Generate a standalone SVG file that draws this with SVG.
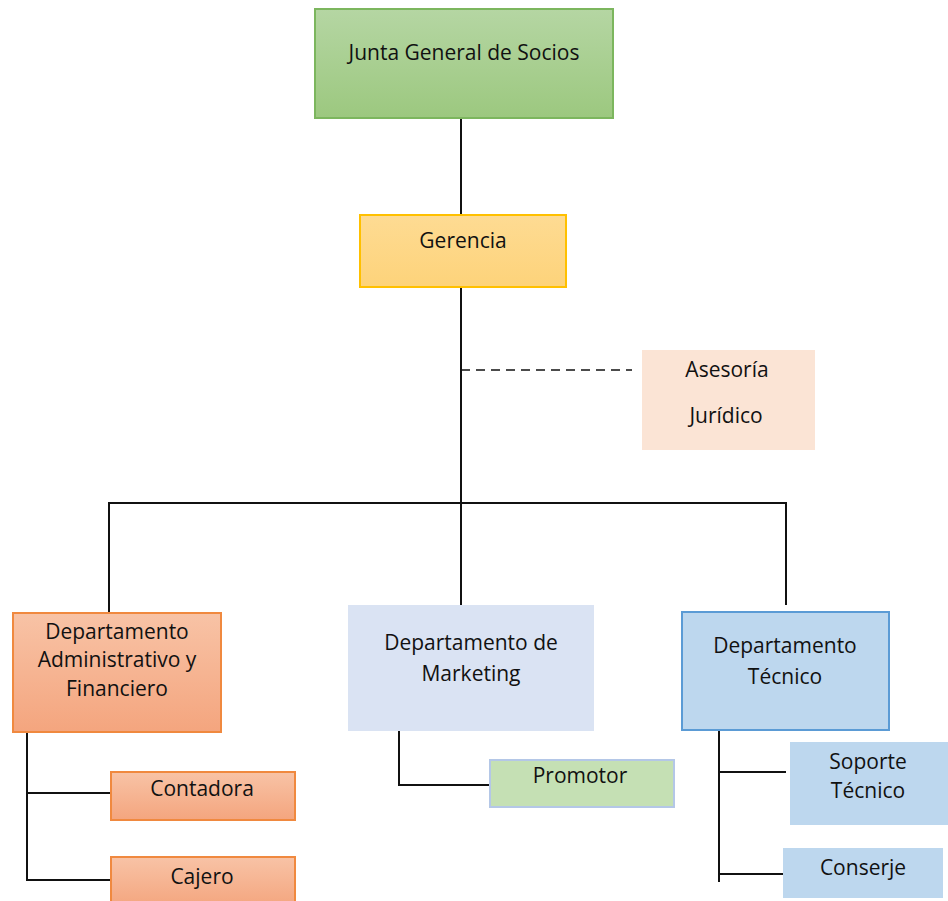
<svg xmlns="http://www.w3.org/2000/svg" width="948" height="901" viewBox="0 0 948 901">
<defs>
<linearGradient id="gGreen" x1="0" y1="0" x2="0" y2="1"><stop offset="0" stop-color="#b5d6a3"/><stop offset="1" stop-color="#9cc87f"/></linearGradient>
<linearGradient id="gGold" x1="0" y1="0" x2="0" y2="1"><stop offset="0" stop-color="#fedb93"/><stop offset="1" stop-color="#fdd37a"/></linearGradient>
<linearGradient id="gOrange" x1="0" y1="0" x2="0" y2="1"><stop offset="0" stop-color="#f8c3a6"/><stop offset="1" stop-color="#f4a57e"/></linearGradient>
</defs>
<style>
text{font-family:"Open Sans","Liberation Sans",sans-serif;font-size:21px;fill:#111;text-anchor:middle}
.ln{stroke:#111;stroke-width:2;fill:none}
.dash{stroke:#111;stroke-width:1.5;stroke-dasharray:9,6;fill:none}
</style>
<g id="connectors">
<line class="ln" x1="461" y1="118" x2="461" y2="215"/>
<line class="ln" x1="461" y1="287" x2="461" y2="605"/>
<line class="dash" x1="461" y1="370" x2="632" y2="370"/>
<polyline class="ln" points="109,613 109,503 786,503 786,605"/>
<polyline class="ln" points="27,732 27,880 110,880"/>
<line class="ln" x1="27" y1="793" x2="110" y2="793"/>
<polyline class="ln" points="399,731 399,785 490,785"/>
<line class="ln" x1="719" y1="730" x2="719" y2="882"/>
<line class="ln" x1="719" y1="772" x2="786" y2="772"/>
<line class="ln" x1="719" y1="874" x2="783" y2="874"/>
</g>
<g id="junta">
<rect x="315" y="9" width="298" height="109" fill="url(#gGreen)" stroke="#7cb65e" stroke-width="2"/>
<text x="464" y="60">Junta General de Socios</text>
</g>
<g id="gerencia">
<rect x="360" y="215" width="206" height="72" fill="url(#gGold)" stroke="#ffc000" stroke-width="2"/>
<text x="463" y="248">Gerencia</text>
</g>
<g id="asesoria">
<rect x="642" y="350" width="173" height="100" fill="#fbe4d5"/>
<text x="727" y="377">Asesoría</text>
<text x="726" y="423">Jurídico</text>
</g>
<g id="dept-admin">
<rect x="13" y="613" width="208" height="119" fill="url(#gOrange)" stroke="#f0893f" stroke-width="2"/>
<text x="117" y="639">Departamento</text>
<text x="117" y="667">Administrativo y</text>
<text x="117" y="696">Financiero</text>
</g>
<g id="dept-marketing">
<rect x="348" y="605" width="246" height="126" fill="#dae3f3"/>
<text x="471" y="650">Departamento de</text>
<text x="471" y="681">Marketing</text>
</g>
<g id="dept-tecnico">
<rect x="682" y="612" width="207" height="118" fill="#bdd7ee" stroke="#5b9bd5" stroke-width="2"/>
<text x="785" y="653">Departamento</text>
<text x="785" y="684">Técnico</text>
</g>
<g id="contadora">
<rect x="111" y="772" width="184" height="48" fill="url(#gOrange)" stroke="#f0893f" stroke-width="2"/>
<text x="202" y="796">Contadora</text>
</g>
<g id="cajero">
<rect x="111" y="857" width="184" height="50" fill="url(#gOrange)" stroke="#f0893f" stroke-width="2"/>
<text x="202" y="884">Cajero</text>
</g>
<g id="promotor">
<rect x="490" y="760" width="184" height="47" fill="#c5e0b4" stroke="#b4c7e7" stroke-width="2"/>
<text x="580" y="783">Promotor</text>
</g>
<g id="soporte">
<rect x="790" y="742" width="158" height="83" fill="#bdd7ee"/>
<text x="868" y="769">Soporte</text>
<text x="868" y="798">Técnico</text>
</g>
<g id="conserje">
<rect x="783" y="848" width="160" height="50" fill="#bdd7ee"/>
<text x="863" y="875">Conserje</text>
</g>
</svg>
